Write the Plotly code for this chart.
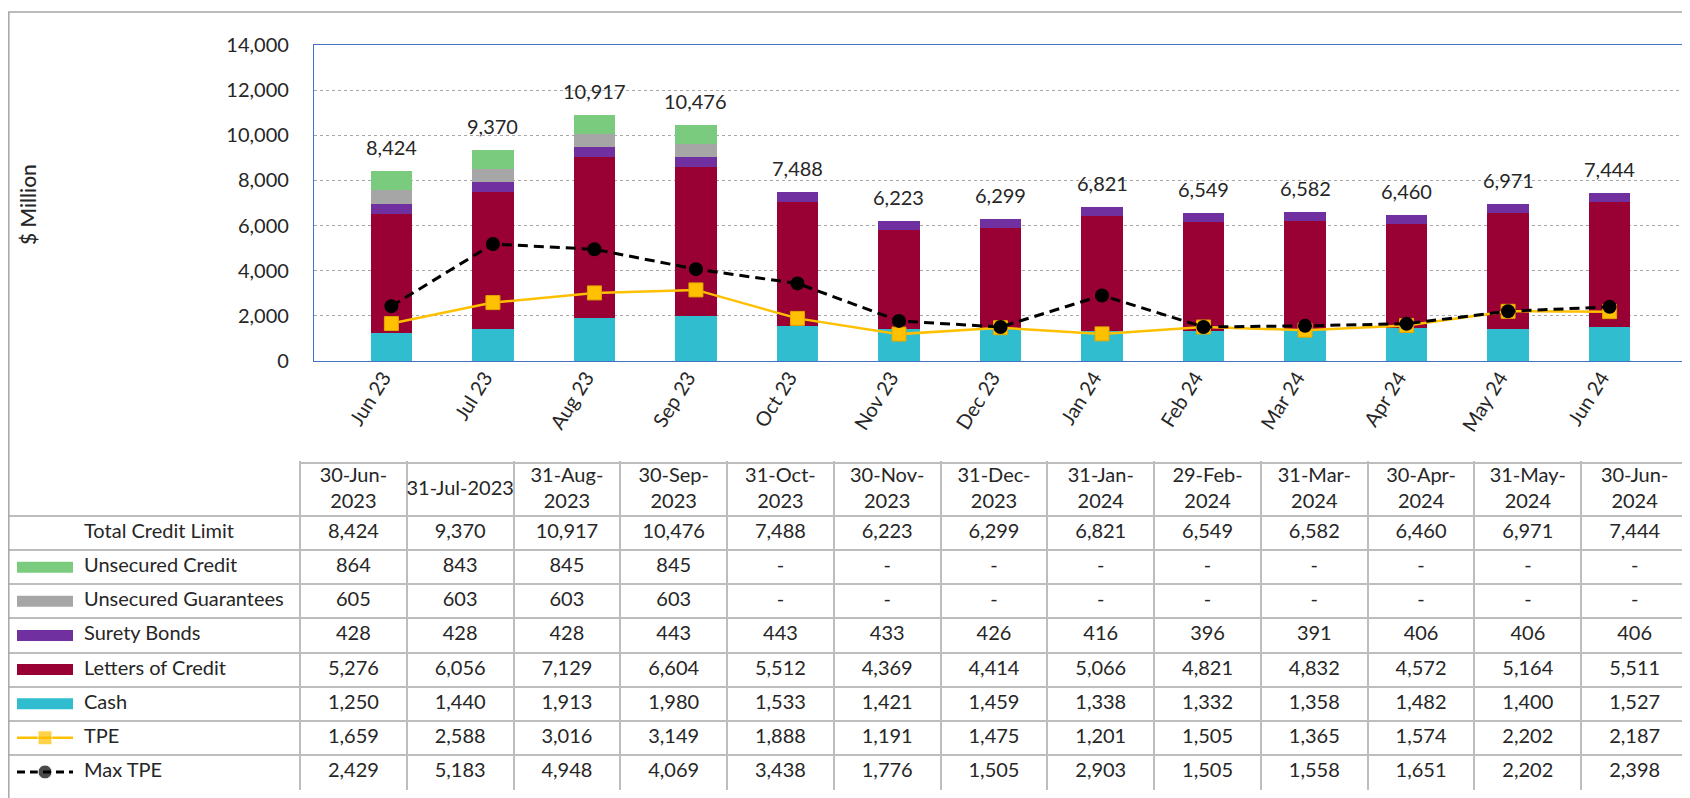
import plotly.graph_objects as go

# ---------------- data ----------------
categories = ["Jun 23", "Jul 23", "Aug 23", "Sep 23", "Oct 23", "Nov 23", "Dec 23",
              "Jan 24", "Feb 24", "Mar 24", "Apr 24", "May 24", "Jun 24"]
table_dates = ["30-Jun-<br>2023", "31-Jul-2023", "31-Aug-<br>2023", "30-Sep-<br>2023",
               "31-Oct-<br>2023", "30-Nov-<br>2023", "31-Dec-<br>2023", "31-Jan-<br>2024",
               "29-Feb-<br>2024", "31-Mar-<br>2024", "30-Apr-<br>2024", "31-May-<br>2024",
               "30-Jun-<br>2024"]
total_credit = [8424, 9370, 10917, 10476, 7488, 6223, 6299, 6821, 6549, 6582, 6460, 6971, 7444]
unsecured_credit = [864, 843, 845, 845, None, None, None, None, None, None, None, None, None]
unsecured_guar = [605, 603, 603, 603, None, None, None, None, None, None, None, None, None]
surety_bonds = [428, 428, 428, 443, 443, 433, 426, 416, 396, 391, 406, 406, 406]
letters_credit = [5276, 6056, 7129, 6604, 5512, 4369, 4414, 5066, 4821, 4832, 4572, 5164, 5511]
cash = [1250, 1440, 1913, 1980, 1533, 1421, 1459, 1338, 1332, 1358, 1482, 1400, 1527]
tpe = [1659, 2588, 3016, 3149, 1888, 1191, 1475, 1201, 1505, 1365, 1574, 2202, 2187]
max_tpe = [2429, 5183, 4948, 4069, 3438, 1776, 1505, 2903, 1505, 1558, 1651, 2202, 2398]
y_ticks = [0, 2000, 4000, 6000, 8000, 10000, 12000, 14000]

# ---------------- style ----------------
OFF = 8  # page body margin
W, H = 1690 - OFF, 798 - OFF
FONT = "Lato, 'Open Sans', sans-serif"
FS = 20
TXT = "#262626"
C_CASH, C_LOC, C_SB, C_UG, C_UC = "#31BDD0", "#990033", "#7030A0", "#A6A6A6", "#7BCB7E"
C_TPE, C_MAX = "#FFC000", "#000000"
GRID = "#BDBDBD"

def px_x(p): return (p - OFF) / W
def px_y(p): return 1 - (p - OFF) / H

fig = go.Figure()

# ---------------- main chart ----------------
bar_series = [("Cash", cash, C_CASH), ("Letters of Credit", letters_credit, C_LOC),
              ("Surety Bonds", surety_bonds, C_SB), ("Unsecured Guarantees", unsecured_guar, C_UG),
              ("Unsecured Credit", unsecured_credit, C_UC)]
for name, vals, col in bar_series:
    fig.add_trace(go.Bar(x=categories, y=vals, name=name, marker=dict(color=col, line=dict(width=0)),
                         showlegend=False, xaxis="x", yaxis="y"))

fig.add_trace(go.Scatter(x=categories, y=tpe, name="TPE", mode="lines+markers",
                         line=dict(color=C_TPE, width=2.5),
                         marker=dict(symbol="square", size=14, color=C_TPE, line=dict(color="#E0A800", width=1)),
                         showlegend=False, xaxis="x", yaxis="y"))
fig.add_trace(go.Scatter(x=categories, y=max_tpe, name="Max TPE", mode="lines+markers",
                         line=dict(color=C_MAX, width=3, dash="10px,6px"),
                         marker=dict(symbol="circle", size=14, color=C_MAX),
                         showlegend=False, xaxis="x", yaxis="y"))

annotations = []
for c, t in zip(categories, total_credit):
    annotations.append(dict(x=c, y=t, xref="x", yref="y", text=f"{t:,}", showarrow=False,
                            yshift=24, font=dict(family=FONT, size=FS, color=TXT)))

annotations.append(dict(x=px_x(27), y=px_y(205), xref="paper", yref="paper", text="$ Million",
                        textangle=-90, showarrow=False, xanchor="center", yanchor="middle",
                        font=dict(family=FONT, size=21, color=TXT, weight=500)))

# ---------------- table (own axes x2/y2) ----------------
COL_PX = (1688 - 300) / 13.0
LW = (300 - 8) / COL_PX
ROW_PX = (789 - 516) / 8.0
HH = (516 - 463) / ROW_PX
x2_range = [-LW, 13 + 2 / COL_PX]
y2_range = [8 + 1 / ROW_PX, -HH - 2 / ROW_PX]

col_centers = [i + 0.5 for i in range(13)]

def fmt(v):
    return "-" if v is None else f"{v:,}"

row_labels = ["Total Credit Limit", "Unsecured Credit", "Unsecured Guarantees", "Surety Bonds",
              "Letters of Credit", "Cash", "TPE", "Max TPE"]
row_data = [total_credit, unsecured_credit, unsecured_guar, surety_bonds, letters_credit, cash, tpe, max_tpe]

tfont = dict(family=FONT, size=FS, color=TXT)
# header
fig.add_trace(go.Scatter(x=col_centers, y=[-HH / 2] * 13, text=table_dates, mode="text",
                         textposition="middle center", textfont=tfont, hoverinfo="skip",
                         showlegend=False, xaxis="x2", yaxis="y2"))
# values
for r, vals in enumerate(row_data):
    fig.add_trace(go.Scatter(x=col_centers, y=[r + 0.5] * 13, text=[fmt(v) for v in vals],
                             mode="text", textposition="middle center", textfont=tfont,
                             hoverinfo="skip", showlegend=False, xaxis="x2", yaxis="y2"))
# labels
label_x = -LW + (84 - 8) / COL_PX
fig.add_trace(go.Scatter(x=[label_x] * 8, y=[r + 0.5 for r in range(8)], text=row_labels,
                         mode="text", textposition="middle right", textfont=tfont,
                         hoverinfo="skip", showlegend=False, xaxis="x2", yaxis="y2"))

# legend keys in the label column
sw_x0 = -LW + (17 - 8) / COL_PX
sw_x1 = -LW + (73 - 8) / COL_PX
sw_xm = (sw_x0 + sw_x1) / 2
sw_h = 5.5 / ROW_PX
shapes = []
for r, col in zip([1, 2, 3, 4, 5], [C_UC, C_UG, C_SB, C_LOC, C_CASH]):
    shapes.append(dict(type="rect", xref="x2", yref="y2", x0=sw_x0, x1=sw_x1,
                       y0=r + 0.5 - sw_h, y1=r + 0.5 + sw_h, fillcolor=col, line=dict(width=0)))
fig.add_trace(go.Scatter(x=[sw_x0, sw_xm, sw_x1], y=[6.5] * 3, mode="lines+markers",
                         line=dict(color=C_TPE, width=2.5),
                         marker=dict(symbol="square", size=[0, 14, 0], color=C_TPE),
                         hoverinfo="skip", showlegend=False, xaxis="x2", yaxis="y2"))
fig.add_trace(go.Scatter(x=[sw_x0, sw_xm, sw_x1], y=[7.5] * 3, mode="lines+markers",
                         line=dict(color=C_MAX, width=3, dash="8px,5px"),
                         marker=dict(symbol="circle", size=[0, 14, 0], color=C_MAX),
                         hoverinfo="skip", showlegend=False, xaxis="x2", yaxis="y2"))

# header top border over the data columns only
shapes.append(dict(type="line", xref="x2", yref="y2", x0=0, x1=13, y0=-HH, y1=-HH,
                   line=dict(color=GRID, width=2)))
# outer frame (left and top)
shapes.append(dict(type="line", xref="paper", yref="paper", x0=0.8 / W, x1=0.8 / W,
                   y0=0, y1=px_y(12), line=dict(color="#A6A6A6", width=1.5)))
shapes.append(dict(type="line", xref="paper", yref="paper", x0=0, x1=1,
                   y0=px_y(12), y1=px_y(12), line=dict(color="#A6A6A6", width=1.5)))

fig.update_layout(
    width=W, height=H, margin=dict(l=0, r=0, t=0, b=0, autoexpand=False),
    paper_bgcolor="white", plot_bgcolor="white",
    barmode="stack", bargap=0.59,
    font=dict(family=FONT, size=FS, color=TXT),
    xaxis=dict(domain=[px_x(314), px_x(1687)], anchor="y", type="category",
               showline=True, mirror=True, linecolor="#4472C4", linewidth=1.2,
               showgrid=False, ticks="", tickangle=-58, automargin=False,
               ticklabelstandoff=-4, ticklabelshift=-8,
               tickfont=dict(family=FONT, size=FS, color=TXT)),
    yaxis=dict(domain=[px_y(361), px_y(45)], anchor="x", range=[0, 14000],
               tickvals=y_ticks, tickformat=",", showline=True, mirror=True,
               linecolor="#4472C4", linewidth=1.2, showgrid=True, gridcolor="#A6A6A6",
               griddash="dot", gridwidth=1, zeroline=False, ticks="", ticklabelstandoff=20,
               automargin=False, tickfont=dict(family=FONT, size=FS, color=TXT)),
    xaxis2=dict(domain=[px_x(8), 1.0], anchor="y2", range=x2_range, tickvals=list(range(14)),
                showticklabels=False, showgrid=True, gridcolor=GRID, gridwidth=2,
                zeroline=True, zerolinecolor=GRID, zerolinewidth=2, showline=False, ticks=""),
    yaxis2=dict(domain=[px_y(790), px_y(461)], anchor="x2", range=y2_range, tickvals=list(range(9)),
                showticklabels=False, showgrid=True, gridcolor=GRID, gridwidth=2,
                zeroline=True, zerolinecolor=GRID, zerolinewidth=2, showline=False, ticks=""),
    annotations=annotations,
    shapes=shapes,
    hovermode=False,
)

fig.write_html("out.html")
